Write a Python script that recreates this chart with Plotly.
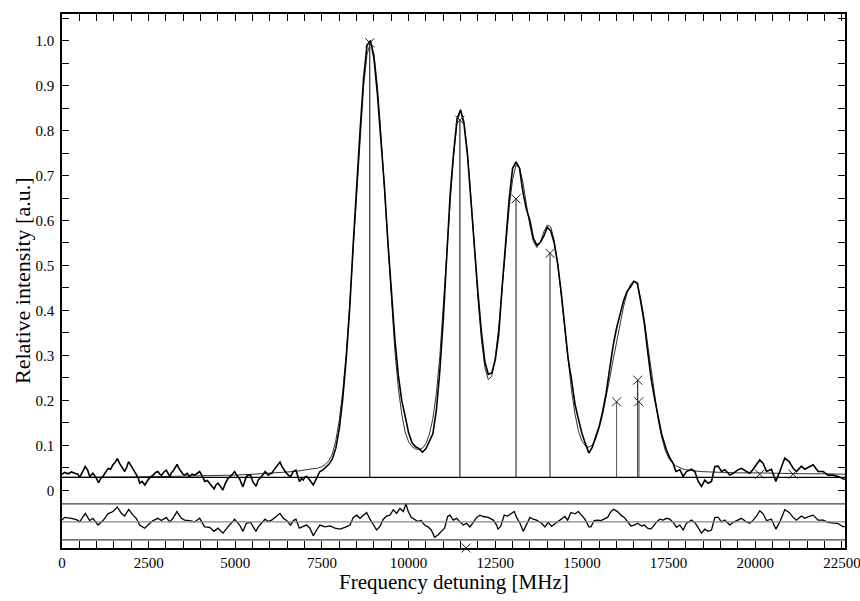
import plotly.graph_objects as go

# measured spectrum: left wing, peak region (100 MHz grid), right wing
data_left_freq = [0, 80, 180, 270, 370, 460, 510, 590, 670, 740,
                  800, 890, 970, 1060, 1120, 1180, 1260, 1330, 1400, 1470,
                  1530, 1600, 1660, 1710, 1760, 1810, 1870, 1920, 1990, 2050,
                  2100, 2140, 2200, 2240, 2310, 2390, 2440, 2480, 2550, 2630,
                  2700, 2770, 2820, 2870, 2940, 3010, 3060, 3110, 3160, 3200,
                  3260, 3320, 3380, 3440, 3490, 3540, 3610, 3680, 3750, 3830,
                  3900, 3970, 4040, 4120, 4190, 4260, 4330, 4390, 4440, 4500,
                  4570, 4640, 4710, 4790, 4860, 4920, 4980, 5050, 5130, 5180,
                  5220, 5270, 5320, 5380, 5440, 5500, 5560, 5600, 5660, 5710,
                  5760, 5810, 5860, 5910, 5950, 6000, 6050, 6100, 6150, 6220,
                  6290, 6340, 6390, 6440, 6480, 6540, 6600, 6670, 6750, 6800,
                  6850, 6910, 6960, 7010, 7060, 7110, 7150, 7200, 7250, 7300,
                  7350, 7400, 7440, 7520]
data_left_int = [0.036, 0.040, 0.037, 0.041, 0.038, 0.036, 0.029, 0.040, 0.053, 0.045,
                 0.031, 0.038, 0.030, 0.017, 0.027, 0.031, 0.040, 0.049, 0.047, 0.057,
                 0.062, 0.071, 0.060, 0.053, 0.049, 0.042, 0.052, 0.064, 0.055, 0.047,
                 0.040, 0.034, 0.028, 0.016, 0.020, 0.012, 0.019, 0.023, 0.030, 0.034,
                 0.040, 0.042, 0.036, 0.034, 0.041, 0.045, 0.038, 0.031, 0.040, 0.042,
                 0.050, 0.058, 0.048, 0.042, 0.036, 0.034, 0.038, 0.031, 0.036, 0.034,
                 0.038, 0.042, 0.033, 0.020, 0.022, 0.016, 0.010, 0.003, 0.012, 0.016,
                 0.009, 0.001, 0.015, 0.027, 0.031, 0.038, 0.042, 0.033, 0.025, 0.015,
                 0.008, 0.020, 0.031, 0.034, 0.034, 0.020, 0.012, 0.009, 0.023, 0.027,
                 0.031, 0.036, 0.042, 0.038, 0.034, 0.037, 0.038, 0.044, 0.049, 0.055,
                 0.063, 0.054, 0.047, 0.042, 0.038, 0.033, 0.031, 0.042, 0.045, 0.030,
                 0.020, 0.026, 0.023, 0.030, 0.031, 0.027, 0.023, 0.017, 0.012, 0.020,
                 0.027, 0.036, 0.042, 0.045]
data_mid_freq = list(range(7600, 17400, 100))
data_mid_int = [0.050, 0.058, 0.070, 0.094,
                0.137, 0.204, 0.292, 0.404, 0.546, 0.682, 0.800, 0.915, 0.990, 1.000,
                0.961, 0.880, 0.784, 0.678, 0.555, 0.441, 0.340, 0.258, 0.200, 0.165,
                0.128, 0.106, 0.097, 0.093, 0.085, 0.093, 0.110, 0.126, 0.178, 0.265,
                0.380, 0.529, 0.660, 0.752, 0.827, 0.846, 0.813, 0.744, 0.638, 0.539,
                0.440, 0.352, 0.286, 0.258, 0.261, 0.290, 0.347, 0.454, 0.560, 0.647,
                0.716, 0.730, 0.716, 0.662, 0.625, 0.600, 0.560, 0.545, 0.551, 0.565,
                0.585, 0.577, 0.550, 0.504, 0.442, 0.373, 0.294, 0.246, 0.192, 0.158,
                0.127, 0.104, 0.083, 0.096, 0.120, 0.143, 0.176, 0.217, 0.270, 0.322,
                0.361, 0.392, 0.421, 0.442, 0.452, 0.465, 0.461, 0.418, 0.372, 0.307,
                0.247, 0.203, 0.162, 0.125]
data_right_freq = [17440, 17536, 17633, 17710, 17825, 17921, 18017, 18162, 18258, 18354,
                   18450, 18546, 18642, 18738, 18835, 18931, 19027, 19123, 19267, 19363,
                   19508, 19604, 19748, 19844, 19940, 20036, 20132, 20229, 20325, 20469,
                   20594, 20709, 20853, 20979, 21094, 21190, 21334, 21430, 21574, 21671,
                   21815, 21959, 22103, 22248, 22392, 22536, 22590]
data_right_int = [0.090, 0.072, 0.060, 0.042, 0.046, 0.031, 0.042, 0.047, 0.042, 0.020,
                  0.009, 0.023, 0.016, 0.020, 0.053, 0.054, 0.042, 0.046, 0.034, 0.038,
                  0.046, 0.049, 0.042, 0.038, 0.047, 0.057, 0.068, 0.060, 0.042, 0.047,
                  0.020, 0.042, 0.072, 0.064, 0.049, 0.042, 0.054, 0.047, 0.053, 0.057,
                  0.042, 0.042, 0.034, 0.034, 0.031, 0.025, 0.024]

# fitted profile
fit_left_freq = [0, 1000, 2000, 3000, 4000, 4500, 5000, 5500, 6000, 6500, 6800, 7000, 7200, 7400, 7500]
fit_left_int = [0.029, 0.029, 0.030, 0.031, 0.032, 0.033, 0.034, 0.036, 0.038, 0.041, 0.043, 0.045, 0.047, 0.050, 0.053]
fit_mid_freq = list(range(7600, 17900, 100))
fit_mid_int = [0.058, 0.066, 0.081, 0.111,
               0.156, 0.221, 0.305, 0.412, 0.534, 0.664, 0.790, 0.897, 0.969, 0.996,
               0.971, 0.899, 0.794, 0.668, 0.538, 0.418, 0.313, 0.230, 0.170, 0.130,
               0.108, 0.097, 0.092, 0.091, 0.094, 0.104, 0.125, 0.160, 0.215, 0.297,
               0.403, 0.524, 0.642, 0.746, 0.819, 0.846, 0.820, 0.750, 0.649, 0.535,
               0.426, 0.335, 0.273, 0.246, 0.254, 0.295, 0.363, 0.450, 0.543, 0.628,
               0.691, 0.723, 0.718, 0.684, 0.635, 0.588, 0.553, 0.540, 0.552, 0.575,
               0.590, 0.586, 0.556, 0.504, 0.436, 0.360, 0.287, 0.222, 0.170, 0.132,
               0.110, 0.099, 0.096, 0.101, 0.115, 0.139, 0.170, 0.207, 0.248, 0.290,
               0.332, 0.372, 0.408, 0.438, 0.458, 0.466, 0.457, 0.425, 0.380, 0.323,
               0.264, 0.207, 0.158, 0.119, 0.090, 0.072, 0.062, 0.055, 0.051]
fit_right_freq = [17900, 18000, 18200, 18400, 18700, 19000, 19500, 20000, 20500, 21000, 21500, 22000, 22600]
fit_right_int = [0.048, 0.046, 0.044, 0.042, 0.041, 0.040, 0.039, 0.039, 0.038, 0.038, 0.037, 0.037, 0.036]

# residuals (data - fit)
resid_freq = [0, 77, 269, 414, 510, 673, 798, 894, 1038, 1183,
              1327, 1471, 1596, 1712, 1808, 1923, 2048, 2144, 2240, 2385,
              2481, 2625, 2769, 2865, 3010, 3106, 3202, 3317, 3442, 3538,
              3683, 3827, 3971, 4115, 4260, 4385, 4500, 4644, 4788, 4981,
              5125, 5221, 5317, 5442, 5519, 5596, 5663, 5760, 5856, 5952,
              6048, 6144, 6288, 6385, 6481, 6596, 6673, 6750, 6846, 6961,
              7058, 7154, 7250, 7346, 7442, 7587, 7731, 7875, 8019, 8163,
              8308, 8404, 8500, 8596, 8692, 8788, 8885, 8981, 9077, 9173,
              9269, 9365, 9462, 9558, 9654, 9750, 9846, 9923, 9990, 10077,
              10173, 10269, 10365, 10461, 10557, 10654, 10750, 10846, 10942, 11038,
              11125, 11192, 11288, 11385, 11481, 11577, 11673, 11769, 11865, 11962,
              12058, 12154, 12298, 12443, 12540, 12577, 12654, 12760, 12856, 12952,
              13048, 13115, 13212, 13308, 13404, 13500, 13596, 13692, 13837, 13933,
              14029, 14125, 14221, 14317, 14413, 14510, 14587, 14683, 14798, 14894,
              14990, 15086, 15202, 15260, 15356, 15452, 15548, 15644, 15740, 15837,
              15913, 16029, 16125, 16221, 16317, 16413, 16510, 16606, 16721, 16798,
              16894, 16990, 17086, 17153, 17249, 17344, 17440, 17536, 17633, 17729,
              17825, 17921, 18017, 18162, 18258, 18354, 18450, 18546, 18642, 18738,
              18835, 18931, 19027, 19123, 19267, 19363, 19460, 19604, 19748, 19844,
              19940, 20036, 20132, 20229, 20325, 20469, 20594, 20709, 20853, 20979,
              21094, 21190, 21334, 21430, 21574, 21671, 21815, 21959, 22103, 22248,
              22392, 22536, 22590]
resid_val = [0.004, 0.010, 0.008, 0.005, 0.000, 0.019, 0.003, 0.008, -0.007, 0.003,
             0.018, 0.023, 0.033, 0.019, 0.013, 0.028, 0.015, 0.008, -0.007, -0.014,
             -0.007, 0.003, 0.008, 0.003, 0.010, 0.000, 0.008, 0.023, 0.008, 0.004,
             0.003, 0.000, 0.008, -0.011, -0.012, -0.021, -0.014, -0.025, -0.011, 0.006,
             -0.007, -0.021, -0.003, -0.001, -0.011, -0.021, -0.011, -0.003, 0.006, 0.001,
             0.004, 0.010, 0.019, 0.008, 0.003, -0.007, 0.003, 0.006, -0.014, -0.010,
             -0.007, -0.014, -0.031, -0.018, -0.007, -0.011, -0.009, -0.014, -0.016, -0.012,
             -0.007, 0.010, 0.015, 0.008, 0.015, 0.021, 0.006, -0.007, -0.018, -0.010,
             0.006, 0.013, 0.015, 0.027, 0.019, 0.030, 0.023, 0.040, 0.023, 0.010,
             0.006, 0.001, 0.003, -0.007, -0.011, -0.018, -0.034, -0.029, -0.021, -0.014,
             0.012, 0.015, 0.004, 0.008, 0.000, -0.007, -0.003, -0.011, -0.001, 0.010,
             0.015, 0.012, 0.010, 0.004, -0.007, -0.016, -0.010, 0.015, 0.013, 0.019,
             0.023, 0.010, -0.003, -0.021, -0.007, 0.010, 0.006, 0.004, -0.003, -0.011,
             -0.001, -0.010, -0.004, 0.001, 0.006, 0.012, 0.004, 0.021, 0.018, 0.023,
             0.015, 0.006, -0.011, -0.011, 0.003, 0.004, 0.003, 0.006, 0.010, 0.023,
             0.028, 0.023, 0.015, 0.010, 0.001, -0.009, -0.007, -0.003, -0.009, -0.007,
             -0.014, -0.016, -0.007, 0.000, 0.006, 0.004, 0.008, 0.006, -0.001, -0.012,
             -0.007, -0.018, -0.003, 0.004, -0.001, -0.014, -0.025, -0.016, -0.021, -0.018,
             0.010, 0.010, 0.000, 0.004, -0.007, -0.001, 0.003, 0.008, 0.000, -0.003,
             0.004, 0.013, 0.025, 0.018, 0.003, 0.006, -0.016, 0.000, 0.027, 0.021,
             0.010, 0.004, 0.013, 0.008, 0.013, 0.015, 0.004, 0.004, -0.001, -0.003,
             -0.004, -0.011, -0.010]

# line components (stick spectrum) and extra markers
stick_freq = [8880, 11480, 13100, 14080, 16000, 16610, 16640]
stick_top = [0.995, 0.823, 0.648, 0.527, 0.197, 0.245, 0.197]
extra_freq = [20130, 21090, 11660]
extra_int = [0.036, 0.036, -0.128]

x_major = [0, 2500, 5000, 7500, 10000, 12500, 15000, 17500, 20000, 22500]
x_text = ['0', '2500', '5000', '7500', '10000', '12500', '15000', '17500', '20000', '22500']
y_major = [0, 0.1, 0.2, 0.3, 0.4, 0.5, 0.6, 0.7, 0.8, 0.9, 1.0]
y_text = ['0', '0.1', '0.2', '0.3', '0.4', '0.5', '0.6', '0.7', '0.8', '0.9', '1.0']

assert len(data_mid_freq) == len(data_mid_int)
assert len(fit_mid_freq) == len(fit_mid_int)
assert len(resid_freq) == len(resid_val)

base_level = 0.029
resid_zero = -0.07
resid_band = [-0.03, -0.11]
stick_colors = ['black', 'black', '#8a8a8a', '#8a8a8a', '#555555', 'black', '#8a8a8a']
stick_widths = [1, 1, 2, 2, 1, 1, 2]
serif = 'Liberation Serif'

data_freq = data_left_freq + data_mid_freq + data_right_freq
data_int = data_left_int + data_mid_int + data_right_int
fit_freq = fit_left_freq + fit_mid_freq + fit_right_freq
fit_int = fit_left_int + fit_mid_int + fit_right_int

fig = go.Figure()

# horizontal reference lines
for lvl, col in [(base_level, 'black'), (resid_band[0], '#444444'),
                 (resid_zero, '#888888'), (resid_band[1], '#444444')]:
    fig.add_hline(y=lvl, line=dict(color=col, width=1.2))

# sticks
for f, top, col, w in zip(stick_freq, stick_top, stick_colors, stick_widths):
    fig.add_trace(go.Scatter(x=[f, f], y=[base_level, top], mode='lines',
                             line=dict(color=col, width=w), hoverinfo='skip'))

fig.add_trace(go.Scatter(x=fit_freq, y=fit_int, mode='lines',
                         line=dict(color='#333333', width=1)))
fig.add_trace(go.Scatter(x=data_freq, y=data_int, mode='lines',
                         line=dict(color='black', width=1.6)))
fig.add_trace(go.Scatter(x=resid_freq, y=[r + resid_zero for r in resid_val], mode='lines',
                         line=dict(color='black', width=1.3)))

fig.add_trace(go.Scatter(x=stick_freq + extra_freq, y=stick_top + extra_int, mode='markers',
                         marker=dict(symbol='x-thin', size=9, line=dict(color='#222222', width=1)),
                         cliponaxis=False))

x_minor = list(range(500, 22600, 500))
y_minor = [0.05, 0.15, 0.25, 0.35, 0.45, 0.55, 0.65, 0.75, 0.85, 0.95, 1.05]

fig.update_xaxes(range=[0, 22590], tickmode='array', tickvals=x_major, ticktext=x_text,
                 ticks='inside', ticklen=7, tickwidth=1, tickcolor='black',
                 tickfont=dict(family=serif, size=15, color='black'), ticklabeloverflow='allow',
                 automargin=False,
                 showline=True, linewidth=1.5, linecolor='black', mirror='allticks',
                 showgrid=False, zeroline=False,
                 minor=dict(tickvals=x_minor, ticks='inside', ticklen=7, tickwidth=1, tickcolor='black'))
fig.update_yaxes(range=[-0.128, 1.059], tickmode='array', tickvals=y_major, ticktext=y_text,
                 ticks='inside', ticklen=7, tickwidth=1, tickcolor='black',
                 tickfont=dict(family=serif, size=15, color='black'), ticklabelstandoff=3,
                 automargin=False,
                 showline=True, linewidth=1.5, linecolor='black', mirror='allticks',
                 showgrid=False, zeroline=False,
                 minor=dict(tickvals=y_minor, ticks='inside', ticklen=7, tickwidth=1, tickcolor='black'))

fig.add_annotation(text='Frequency detuning [MHz]', xref='paper', yref='paper', x=0.5, y=0,
                   xanchor='center', yanchor='middle', yshift=-34, showarrow=False,
                   font=dict(family=serif, size=21))
fig.add_annotation(text='Relative intensity [a.u.]', xref='paper', yref='paper', x=0, y=0.5,
                   xanchor='center', yanchor='middle', xshift=-40, textangle=-90, showarrow=False,
                   font=dict(family=serif, size=22))

fig.update_layout(width=860, height=601, margin=dict(l=62, r=15, t=14, b=53),
                  plot_bgcolor='white', paper_bgcolor='white', showlegend=False,
                  font=dict(family=serif, size=15, color='black'))

# drop the browser's default body margin so the figure fills the window exactly
fig.write_html("out.html", config={'displayModeBar': False},
               post_script="document.body.style.margin='0px';document.body.style.overflow='hidden';")
